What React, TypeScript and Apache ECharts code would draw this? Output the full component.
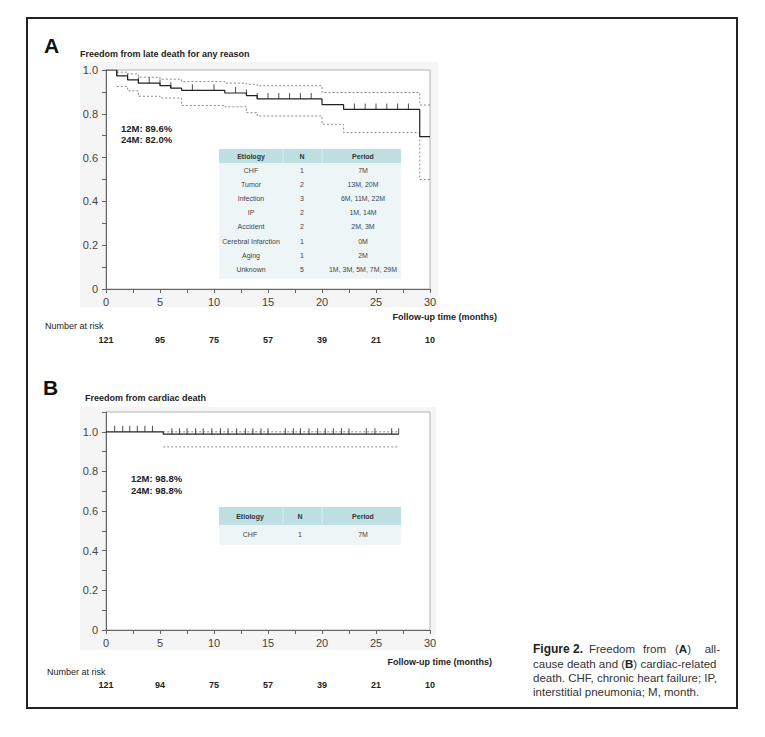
import React, { useEffect, useRef } from "react";
import * as echarts from "echarts";

// ---------- data ----------
const riskA = [121, 95, 75, 57, 39, 21, 10];
const riskB = [121, 94, 75, 57, 39, 21, 10];

// Panel A: Kaplan-Meier (all-cause)
const kmATimes = [0, 1, 2, 3, 5, 6, 7, 11, 13, 14, 20, 22, 29.05, 30];
const kmASurv = [1, 0.973, 0.955, 0.94, 0.929, 0.917, 0.907, 0.895, 0.883, 0.868, 0.842, 0.82, 0.696, 0.696];
const upATimes = [1, 2, 3, 5, 7, 11, 13, 14, 20, 29.05, 30];
const upAVals = [0.99, 0.982, 0.967, 0.958, 0.947, 0.94, 0.935, 0.928, 0.897, 0.84, 0.84];
const loATimes = [1, 2, 3, 5, 7, 11, 13, 14, 20, 22, 29.05, 30];
const loAVals = [0.925, 0.905, 0.88, 0.872, 0.838, 0.832, 0.805, 0.79, 0.752, 0.714, 0.5, 0.5];
const censorA = [1, 2, 3, 4, 5, 6, 8, 10, 12, 13, 14, 15, 16, 17, 18, 19, 23, 24, 25, 26, 27, 28];

// Panel B: Kaplan-Meier (cardiac)
const kmBTimes = [0, 5.3, 27.1];
const kmBSurv = [1, 0.988, 0.988];
const upBTimes = [5.3, 27.1];
const upBVals = [1.0, 1.0];
const loBTimes = [5.3, 27.1];
const loBVals = [0.924, 0.924];
const censorB = [0.8, 1.55, 2.2, 2.9, 3.6, 4.3, 6.1, 6.8, 7.5, 8.3, 9.0, 9.8, 10.6, 11.3, 12.1, 12.9, 13.6, 14.35, 15.0, 16.6, 17.35, 18.0, 18.8, 19.6, 20.3, 21.05, 21.8, 22.5, 24.1, 24.9, 26.45, 27.1];

// Tables
const tableHeader = ["Etiology", "N", "Period"];
const tableAEtiology = ["CHF", "Tumor", "Infection", "IP", "Accident", "Cerebral Infarction", "Aging", "Unknown"];
const tableAN = ["1", "2", "3", "2", "2", "1", "1", "5"];
const tableAPeriod = ["7M", "13M, 20M", "6M, 11M, 22M", "1M, 14M", "2M, 3M", "0M", "2M", "1M, 3M, 5M, 7M, 29M"];
const tableBEtiology = ["CHF"];
const tableBN = ["1"];
const tableBPeriod = ["7M"];

const FONT = "'Liberation Sans', Arial, Helvetica, sans-serif";
const NARROW = "'Liberation Sans Narrow', 'Arial Narrow', 'Liberation Sans', sans-serif";

function zip(t: number[], v: number[]) {
  return t.map((x, i) => [x, v[i]]);
}
function levelAt(times: number[], surv: number[], t: number) {
  let s = surv[0];
  for (let i = 0; i < times.length; i++) if (times[i] <= t + 1e-9) s = surv[i];
  return s;
}

function yFmt(v: number) {
  const k = Math.round(v * 10);
  if (k % 2 !== 0 || k > 10) return "";
  return k === 0 ? "0" : (k / 10).toFixed(1);
}
function xFmt(v: number) {
  const r = v / 5;
  return Math.abs(r - Math.round(r)) < 1e-6 ? String(Math.round(v)) : "";
}

function txt(x: number, y: number, text: string, o: any = {}) {
  return {
    type: "text",
    x,
    y,
    z: 20,
    style: {
      text,
      fontFamily: o.family || FONT,
      fontSize: o.size || 9,
      fontWeight: o.bold ? "bold" : "normal",
      fill: o.color || "#222",
      textAlign: o.align || "left",
      textVerticalAlign: "middle",
      rich: o.rich,
    },
  };
}

function table(x: number, y: number, w: number, hh: number, rh: number, cols: number[], rows: string[][]) {
  const els: any[] = [];
  els.push({ type: "rect", z: 15, shape: { x, y, width: w, height: hh }, style: { fill: "#bfe0e3" } });
  els.push({ type: "rect", z: 15, shape: { x, y: y + hh, width: w, height: rh * rows.length + 3 }, style: { fill: "#eef5f6" } });
  els.push({ type: "line", z: 16, shape: { x1: 283, y1: y, x2: 283, y2: y + hh }, style: { stroke: "#d6ecee", lineWidth: 1 } });
  els.push({ type: "line", z: 16, shape: { x1: 322, y1: y, x2: 322, y2: y + hh }, style: { stroke: "#d6ecee", lineWidth: 1 } });
  tableHeader.forEach((h, i) => els.push(txt(cols[i], y + hh / 2, h, { size: 7, bold: true, align: "center", color: "#333" })));
  rows.forEach((r, j) =>
    r.forEach((c, i) => els.push(txt(cols[i], y + hh + rh * j + rh / 2 + 0.5, c, { size: 7, align: "center", color: "#444" })))
  );
  return els;
}

const capRich = {
  b: { fontWeight: "bold", fontSize: 11.5, fontFamily: FONT, fill: "#222" },
};

export default function App() {
  const ref = useRef<HTMLDivElement>(null);
  useEffect(() => {
    if (!ref.current) return;
    const chart = echarts.init(ref.current, null, { renderer: "svg" });

    const mainX = (grid: number) => ({
      type: "value",
      gridIndex: grid,
      min: 0,
      max: 30,
      interval: 2.5,
      axisLine: { show: true, lineStyle: { color: "#666", width: 1 } },
      axisTick: { show: true, length: 4, lineStyle: { color: "#666" } },
      splitLine: { show: false },
      axisLabel: { formatter: xFmt, fontSize: 11, color: "#444", margin: 7, fontFamily: FONT, showMinLabel: true, showMaxLabel: true },
    });
    const riskX = (grid: number, risk: number[], offset: number) => ({
      type: "value",
      gridIndex: grid,
      position: "bottom",
      offset,
      min: 0,
      max: 30,
      interval: 5,
      axisLine: { show: false },
      axisTick: { show: false },
      splitLine: { show: false },
      axisLabel: {
        formatter: (v: number) => String(risk[Math.round(v / 5)] ?? ""),
        fontSize: 9,
        fontWeight: "bold",
        color: "#222",
        margin: 2,
        fontFamily: FONT,
        showMinLabel: true,
        showMaxLabel: true,
      },
    });
    const yAx = (grid: number, max: number) => ({
      type: "value",
      gridIndex: grid,
      min: 0,
      max,
      interval: 0.1,
      axisLine: { show: true, lineStyle: { color: "#666", width: 1 } },
      axisTick: { show: true, length: 4, lineStyle: { color: "#666" } },
      splitLine: { show: false },
      axisLabel: { formatter: yFmt, fontSize: 11, color: "#444", margin: 8, fontFamily: FONT, showMaxLabel: true },
    });

    const kmLine = (data: number[][], xi: number, yi: number) => ({
      type: "line",
      step: "end",
      data,
      xAxisIndex: xi,
      yAxisIndex: yi,
      symbol: "none",
      lineStyle: { color: "#222", width: 1.2 },
      z: 5,
      silent: true,
    });
    const ciLine = (data: number[][], xi: number, yi: number) => ({
      type: "line",
      step: "end",
      data,
      xAxisIndex: xi,
      yAxisIndex: yi,
      symbol: "none",
      lineStyle: { color: "#8a8a8a", width: 1, type: [2, 2] },
      z: 3,
      silent: true,
    });
    const censor = (times: number[], kt: number[], ks: number[], xi: number, yi: number) => ({
      type: "scatter",
      data: times.map((t) => [t, levelAt(kt, ks, t)]),
      xAxisIndex: xi,
      yAxisIndex: yi,
      symbol: "rect",
      symbolSize: [1, 6],
      symbolOffset: [0, -3],
      itemStyle: { color: "#222" },
      z: 6,
      silent: true,
    });

    const rowsA = tableAEtiology.map((e, i) => [e, tableAN[i], tableAPeriod[i]]);
    const rowsB = tableBEtiology.map((e, i) => [e, tableBN[i], tableBPeriod[i]]);

    const cap = { size: 11.5, color: "#333", rich: capRich };

    const graphics: any[] = [
      // outer border
      { type: "rect", z: 1, shape: { x: 27, y: 18, width: 710, height: 690 }, style: { fill: "none", stroke: "#222", lineWidth: 2 } },
      // light panels behind plots
      { type: "rect", z: -1, shape: { x: 80, y: 62, width: 358, height: 245 }, style: { fill: "#f5f5f5" } },
      { type: "rect", z: -1, shape: { x: 80, y: 407, width: 356, height: 243 }, style: { fill: "#f5f5f5" } },
      txt(44, 45, "A", { size: 21, bold: true, color: "#111" }),
      txt(80, 54, "Freedom from late death for any reason", { size: 9, bold: true }),
      txt(121, 128, "12M: 89.6%", { size: 9.5, bold: true }),
      txt(121, 139, "24M: 82.0%", { size: 9.5, bold: true }),
      txt(497, 317, "Follow-up time (months)", { size: 9, bold: true, align: "right" }),
      txt(45, 326, "Number at risk", { size: 9, color: "#222" }),
      txt(43, 387, "B", { size: 21, bold: true, color: "#111" }),
      txt(85, 398, "Freedom from cardiac death", { size: 9, bold: true }),
      txt(131, 478, "12M: 98.8%", { size: 9.5, bold: true }),
      txt(131, 490, "24M: 98.8%", { size: 9.5, bold: true }),
      txt(492, 662, "Follow-up time (months)", { size: 9, bold: true, align: "right" }),
      txt(47, 672, "Number at risk", { size: 9, color: "#222" }),
      // caption
      txt(533, 649, "Figure 2.", { size: 12, bold: true, color: "#222", family: NARROW }),
      txt(589, 649, "Freedom", cap),
      txt(643, 649, "from", cap),
      txt(675, 649, "({b|A})", cap),
      txt(720, 649, "all-", { ...cap, align: "right" }),
      txt(533, 664, "cause death and ({b|B}) cardiac-related", cap),
      txt(533, 678, "death. CHF, chronic heart failure; IP,", cap),
      txt(533, 692, "interstitial pneumonia; M, month.", cap),
      ...table(219, 149, 182, 14, 14.1, [251, 302, 363], rowsA),
      ...table(219, 507, 182, 18, 17, [250, 300, 363], rowsB),
    ];

    chart.setOption({
      animation: false,
      backgroundColor: "#fff",
      textStyle: { fontFamily: FONT },
      grid: [
        { left: 106, top: 70, width: 324, height: 219, show: true, backgroundColor: "#fff", borderColor: "#b0b0b0", borderWidth: 1 },
        { left: 106, top: 412, width: 324, height: 218, show: true, backgroundColor: "#fff", borderColor: "#b0b0b0", borderWidth: 1 },
      ],
      xAxis: [mainX(0), riskX(0, riskA, 44), mainX(1), riskX(1, riskB, 48)],
      yAxis: [yAx(0, 1), yAx(1, 1.1)],
      graphic: { elements: graphics },
      series: [
        ciLine(zip(upATimes, upAVals), 0, 0),
        ciLine(zip(loATimes, loAVals), 0, 0),
        kmLine(zip(kmATimes, kmASurv), 0, 0),
        censor(censorA, kmATimes, kmASurv, 0, 0),
        ciLine(zip(upBTimes, upBVals), 2, 1),
        ciLine(zip(loBTimes, loBVals), 2, 1),
        kmLine(zip(kmBTimes, kmBSurv), 2, 1),
        censor(censorB, kmBTimes, kmBSurv, 2, 1),
      ],
    });
    return () => chart.dispose();
  }, []);
  return (
    <div
      ref={ref}
      style={{ position: "absolute", left: 0, top: 0, width: 765, height: 737, background: "#fff" }}
    />
  );
}
